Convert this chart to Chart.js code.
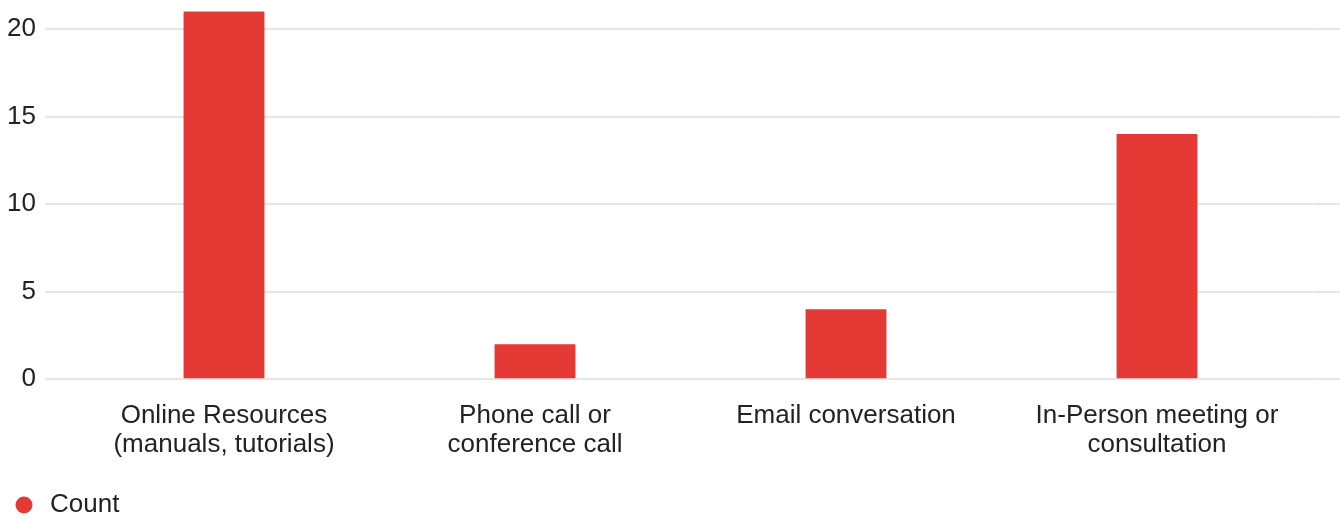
<!DOCTYPE html>
<html>
<head>
<meta charset="utf-8">
<script src="https://cdn.jsdelivr.net/npm/chart.js@4"></script>
<style>
  html, body { margin: 0; padding: 0; background: #fff; }
  #wrap { width: 1340px; height: 519px; }
</style>
</head>
<body>
<div id="wrap"><canvas id="chart" width="1340" height="519"></canvas></div>
<script>
const categories = [
  ["Online Resources", "(manuals, tutorials)"],
  ["Phone call or", "conference call"],
  ["Email conversation"],
  ["In-Person meeting or", "consultation"]
];
const counts = [21, 2, 4, 14];
const yTicks = [0, 5, 10, 15, 20];
const seriesName = "Count";

const RED = "#e53935";
const GRID = "#e6e6e6";
const TEXT = "#222222";
const FONT = "Arial, 'Liberation Sans', sans-serif";

const useTicks = (scale) => { scale.ticks = yTicks.map(v => ({ value: v })); };

new Chart(document.getElementById("chart"), {
  type: "bar",
  data: {
    labels: categories,
    datasets: [{
      label: seriesName,
      data: counts,
      backgroundColor: RED,
      borderWidth: 0,
      barPercentage: 0.26,
      categoryPercentage: 1
    }]
  },
  options: {
    responsive: false,
    animation: false,
    layout: { padding: { left: 7, top: 1, right: 0, bottom: -9 } },
    plugins: {
      tooltip: { enabled: false },
      legend: {
        position: "bottom",
        align: "start",
        labels: {
          usePointStyle: true,
          pointStyle: "circle",
          boxHeight: 12,
          padding: 4,
          color: TEXT,
          font: { family: FONT, size: 26 }
        }
      }
    },
    scales: {
      x: {
        grid: { display: false, drawTicks: false },
        border: { display: false },
        afterFit: (s) => { s.height += 6.5; },
        ticks: {
          color: TEXT,
          padding: 22,
          maxRotation: 0,
          autoSkip: false,
          font: { family: FONT, size: 26, lineHeight: 1.12 }
        }
      },
      y: {
        min: 0,
        max: 21.6,
        afterBuildTicks: useTicks,
        afterFit: (s) => { s.width = 61.5; s.paddingTop = 0; },
        grid: { color: GRID, lineWidth: 2, tickLength: 23.5, tickColor: GRID },
        border: { display: false },
        ticks: { color: TEXT, padding: 9, font: { family: FONT, size: 26 } }
      },
      y2: {
        position: "right",
        min: 0,
        max: 21.6,
        afterBuildTicks: useTicks,
        grid: { drawOnChartArea: false, color: GRID, lineWidth: 2, tickLength: 27.5, tickColor: GRID },
        border: { display: false },
        ticks: { display: false }
      }
    }
  }
});
</script>
</body>
</html>
